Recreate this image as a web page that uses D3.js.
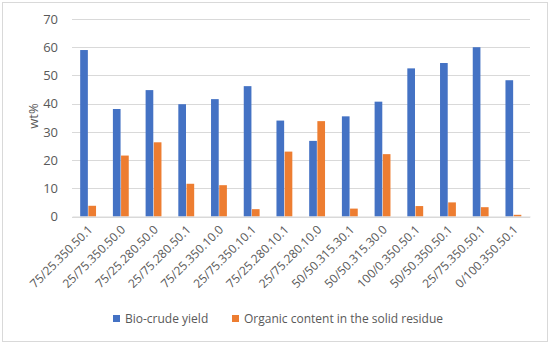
<!DOCTYPE html>
<html><head><meta charset="utf-8">
<script src="https://cdn.jsdelivr.net/npm/d3@7"></script>
<style>body{margin:0;background:#fff}svg{display:block}text{font-family:"Open Sans",Lato,sans-serif;fill:#595959}</style>
</head><body><svg id="c" width="550" height="345"></svg>
<script>
const categories = ["75/25.350.50.1","25/75.350.50.0","75/25.280.50.0","25/75.280.50.1","75/25.350.10.0","25/75.350.10.1","75/25.280.10.1","25/75.280.10.0","50/50.315.30.1","50/50.315.30.0","100/0.350.50.1","50/50.350.50.1","25/75.350.50.1","0/100.350.50.1"];
const bioCrude = [59.0,38.1,44.8,39.8,41.6,46.2,34.0,26.8,35.5,40.7,52.5,54.4,60.0,48.3];
const organic = [3.8,21.6,26.3,11.6,11.1,2.6,23.0,33.8,2.8,22.1,3.7,5.0,3.3,0.6];
const seriesNames = ["Bio-crude yield","Organic content in the solid residue"];
const seriesColors = ["#4472C4","#ED7D31"];
const yTicks = [0,10,20,30,40,50,60,70];

const svg = d3.select("#c");
svg.append("rect").attr("x",2.5).attr("y",2.5).attr("width",545).attr("height",339).attr("fill","#fff").attr("stroke","#d9d9d9");

const L=72,R=530,T=19,B=216.5;
const y = d3.scaleLinear().domain([0,70]).range([B,T]);
const x0 = d3.scaleBand().domain(categories).range([L,R]).paddingInner(0.5).paddingOuter(0.25);
const x1 = d3.scaleBand().domain(seriesNames).range([0,x0.bandwidth()]);

// grid
svg.append("g").selectAll("line").data(yTicks).join("line")
 .attr("x1",L).attr("x2",R).attr("y1",d=>Math.round(y(d))+0.5).attr("y2",d=>Math.round(y(d))+0.5)
 .attr("stroke","#d9d9d9").attr("stroke-width",1);

// y axis labels
const ya = svg.append("g").attr("transform",`translate(${L},0)`)
 .call(d3.axisLeft(y).tickValues(yTicks).tickSize(0).tickPadding(14));
ya.select(".domain").remove();
ya.selectAll("text").attr("font-size",13).style("font-family","'Open Sans',Lato,sans-serif").attr("fill","#595959");

svg.append("text").attr("transform","translate(38,116) rotate(-90)").attr("text-anchor","middle")
 .attr("font-size",13).text("wt%");

// bars
const data = [bioCrude, organic];
const g = svg.append("g");
categories.forEach((c,i)=>{
  seriesNames.forEach((s,j)=>{
    g.append("rect").attr("x",x0(c)+x1(s)).attr("width",x1.bandwidth()-0.5)
     .attr("y",y(data[j][i])).attr("height",B-y(data[j][i]))
     .attr("fill",seriesColors[j]);
  });
});

// x axis
const xa = svg.append("g").attr("transform",`translate(0,${B})`)
 .call(d3.axisBottom(x0).tickSize(0).tickPadding(0));
xa.select(".domain").attr("stroke","#d9d9d9");
xa.selectAll("text").attr("font-size",12).style("font-family","'Open Sans',Lato,sans-serif").attr("fill","#595959")
 .attr("text-anchor","end").attr("dy",0)
 .attr("transform","translate(5,14) rotate(-45)");

// legend
const lg = svg.append("g");
const lx=[113,232];
seriesNames.forEach((s,j)=>{
  lg.append("rect").attr("x",lx[j]).attr("y",315).attr("width",7).attr("height",7).attr("fill",seriesColors[j]);
  lg.append("text").attr("x",lx[j]+12).attr("y",323).attr("font-size",12).text(s);
});
</script></body></html>
